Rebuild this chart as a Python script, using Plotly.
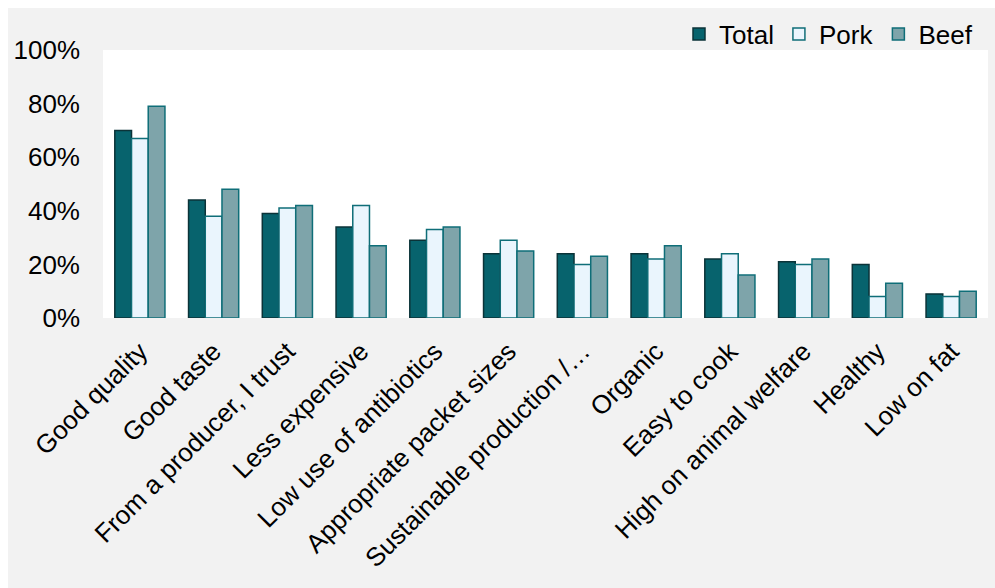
import plotly.graph_objects as go

categories = [
    "Good quality", "Good taste", "From a producer, I trust", "Less expensive",
    "Low use of antibiotics", "Appropriate packet sizes", "Sustainable production /…",
    "Organic", "Easy to cook", "High on animal welfare", "Healthy", "Low on fat",
]
total = [70, 44, 39, 34, 29, 24, 24, 24, 22, 21, 20, 9]
pork = [67, 38, 41, 42, 33, 29, 20, 22, 24, 20, 8, 8]
beef = [79, 48, 42, 27, 34, 25, 23, 27, 16, 22, 13, 10]

y_ticks = [0, 20, 40, 60, 80, 100]
y_tick_text = ["0%", "20%", "40%", "60%", "80%", "100%"]

FONT = "Liberation Sans, Arial, sans-serif"
W, H = 995, 588
L, R, T, B = 103, 7, 50, 270
PW, PH = W - L - R, H - T - B

fig = go.Figure()
fig.add_trace(go.Bar(name="Total", x=categories, y=total,
                     marker=dict(color="#07636d", line=dict(color="#0b3338", width=1.5))))
fig.add_trace(go.Bar(name="Pork", x=categories, y=pork,
                     marker=dict(color="#eaf5fd", line=dict(color="#0f6e78", width=1.5))))
fig.add_trace(go.Bar(name="Beef", x=categories, y=beef,
                     marker=dict(color="#7ea4aa", line=dict(color="#0f6e78", width=1.5))))


def px_x(p):
    return (p - L) / PW


def px_y(p):
    return (H - B - p) / PH


# white page edge around the grey chart frame
shapes = [
    dict(type="rect", xref="paper", yref="paper", layer="below",
         x0=px_x(0), x1=px_x(8), y0=px_y(H), y1=px_y(0),
         fillcolor="white", line=dict(width=0)),
    dict(type="rect", xref="paper", yref="paper", layer="below",
         x0=px_x(0), x1=px_x(W), y0=px_y(8), y1=px_y(0),
         fillcolor="white", line=dict(width=0)),
]

fig.update_layout(
    width=W, height=H,
    margin=dict(l=L, r=R, t=T, b=B),
    paper_bgcolor="#f2f2f2",
    plot_bgcolor="white",
    barmode="group",
    bargap=0.32,
    bargroupgap=0,
    font=dict(family=FONT, size=26, color="black"),
    shapes=shapes,
    legend=dict(
        orientation="h", x=px_x(978), xanchor="right", y=px_y(34), yanchor="middle",
        bgcolor="rgba(0,0,0,0)", font=dict(size=26, family=FONT),
        itemwidth=30, tracegroupgap=0,
    ),
    xaxis=dict(
        tickangle=-45, showgrid=False, showline=False, ticks="",
        tickfont=dict(size=26, family=FONT), ticklabelstandoff=12,
    ),
    yaxis=dict(
        range=[0, 100], tickvals=y_ticks, ticktext=y_tick_text,
        showgrid=False, zeroline=False, showline=False, ticks="",
        tickfont=dict(size=26, family=FONT), ticklabelstandoff=22,
    ),
)

fig.write_html("out.html")
